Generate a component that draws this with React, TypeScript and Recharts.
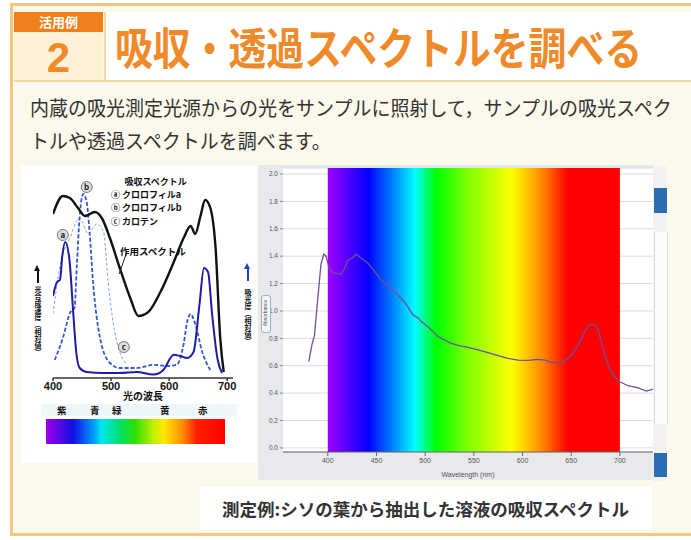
import React from 'react';
import {
  LineChart, Line, XAxis, YAxis, CartesianGrid, ReferenceArea, ReferenceDot, ReferenceLine,
} from 'recharts';

const JP = '"Noto Sans CJK JP", "Noto Sans", sans-serif';
const ORANGE = '#ef8a2a';

// left figure: action spectrum vs absorption spectra (relative, 0-100)
const actionNm = [400, 417, 429, 443, 455, 472, 484, 498, 515, 533, 547, 564, 585, 608, 625, 637, 645, 654, 662, 671, 680, 688, 694];
const actionVal = [82, 91, 90, 85, 81, 83, 80, 70, 55, 40, 31, 33, 43, 58, 70, 76, 72, 81, 89, 85, 65, 20, 3];

const chlANm = [400, 407, 412, 416, 421, 428, 435, 440, 446, 458, 487, 515, 544, 573, 590, 608, 619, 631, 642, 652, 660, 667, 674, 683, 691];
const chlAVal = [41, 48, 49, 61, 68, 60, 32, 13, 5, 3, 2.5, 2.5, 3, 1.7, 4, 11.6, 11, 10, 13, 36, 55, 53, 32, 10, 2.5];

const chlBNm = [403, 417, 430, 437, 441, 446, 452, 458, 463, 469, 481, 498, 515, 544, 573, 596, 613, 625, 631, 637, 645, 657, 671];
const chlBVal = [9, 20, 33, 35, 56, 81, 92, 88, 73, 48, 20, 7.5, 5, 5, 6.6, 6, 6.6, 17, 28, 32, 27, 13, 4];

const caroNm = [400, 412, 429, 446, 461, 475, 487, 495, 504, 515, 527];
const caroVal = [32, 56, 70, 80, 72, 77, 73, 48, 27, 13, 7];

const leftTicks = [400, 500, 600, 700];
const legendLines = ['\u3000\u2002吸収スペクトル', 'ⓐ クロロフィルa', 'ⓑ クロロフィルb', 'ⓒ カロテン'];
const colorNames = ['紫', '青', '緑', '黄', '赤'];
const colorNamePos = [62, 95, 117, 165, 203];

// right figure: measured absorbance of perilla leaf extract
const absNm = [380.5, 383.6, 386.3, 389.7, 393, 395.9, 398.3, 401.7, 406.9, 413.7, 417.1, 420.6, 425.7, 429.1, 434.3, 441.1, 448, 454.8, 461.7, 468.5, 475.4, 482.2, 487.4, 492.5, 496, 502.8, 508, 513.1, 520, 526.8, 533.7, 543.9, 554.2, 564.5, 574.8, 585, 595.3, 605.6, 615.9, 622.8, 629.6, 636.5, 643.3, 650.2, 657, 663.9, 669, 674.2, 677.6, 682.7, 687.9, 693, 699.9, 708.4, 718.7, 727.3, 734];
const absVal = [0.63, 0.75, 0.82, 1.09, 1.34, 1.415, 1.4, 1.3, 1.276, 1.27, 1.31, 1.37, 1.39, 1.415, 1.385, 1.35, 1.29, 1.227, 1.178, 1.141, 1.093, 1.032, 0.971, 0.951, 0.922, 0.885, 0.849, 0.812, 0.788, 0.763, 0.749, 0.734, 0.715, 0.695, 0.673, 0.654, 0.641, 0.639, 0.646, 0.641, 0.624, 0.622, 0.634, 0.678, 0.751, 0.849, 0.902, 0.902, 0.861, 0.727, 0.605, 0.532, 0.483, 0.454, 0.439, 0.415, 0.429];

const absTicks = [0, 0.2, 0.4, 0.6, 0.8, 1.0, 1.2, 1.4, 1.6, 1.8, 2.0];
const wlTicks = [400, 450, 500, 550, 600, 650, 700];

const spectrumStops = [
  { off: '0%', color: '#a000ff' },
  { off: '14%', color: '#0000ff' },
  { off: '30%', color: '#00ffff' },
  { off: '37%', color: '#00ff00' },
  { off: '48%', color: '#80ff00' },
  { off: '63%', color: '#ffff00' },
  { off: '74%', color: '#ff8000' },
  { off: '82%', color: '#ff0000' },
  { off: '100%', color: '#ff0000' },
];

const zip = (xs: number[], ys: number[]) => xs.map((x, i) => ({ x, y: ys[i] }));

const abs: React.CSSProperties = { position: 'absolute' };

function Arrow({ left, top, color }: { left: number; top: number; color: string }) {
  return (
    <div style={{ ...abs, left, top, width: 7, height: 18 }}>
      <div style={{ ...abs, left: 0, top: 0, width: 0, height: 0, borderLeft: '3.5px solid transparent', borderRight: '3.5px solid transparent', borderBottom: `6px solid ${color}` }} />
      <div style={{ ...abs, left: 2.5, top: 5, width: 2, height: 13, background: color }} />
    </div>
  );
}

function VerticalTitle({ text, left, top }: { text: string; left: number; top: number }) {
  return (
    <div style={{
      ...abs, left, top, width: 9, writingMode: 'vertical-rl', fontFamily: JP, fontSize: 7,
      fontWeight: 700, color: '#111', lineHeight: '9px', whiteSpace: 'nowrap',
    }}>{text}</div>
  );
}

function LeftFigure() {
  const small = { fontFamily: JP, fontSize: 9.5, fontWeight: 700, color: '#111', whiteSpace: 'nowrap' as const, lineHeight: '11px' };
  return (
    <div style={{ ...abs, left: 21, top: 166, width: 236, height: 297, background: '#fff' }}>
      <div style={{ ...abs, left: 1, top: 0 }}>
        <LineChart width={235} height={296} margin={{ top: 12, right: 24, bottom: 62, left: 31 }}>
          <XAxis type="number" dataKey="x" domain={[400, 710]} ticks={leftTicks} allowDataOverflow
            stroke="#333" strokeWidth={1.5} tickSize={3} tickMargin={1} height={22}
            tick={{ fontSize: 11, fontWeight: 700, fill: '#111', fontFamily: '"Liberation Sans", Arial' }}
            label={{ value: '光の波長', position: 'insideBottom', offset: 0, fontSize: 10, fontWeight: 700, fill: '#111', fontFamily: JP }} />
          <XAxis xAxisId="t" type="number" orientation="top" domain={[400, 710]} tick={false} tickLine={false} height={0} stroke="#333" strokeWidth={1.5} />
          <YAxis type="number" domain={[0, 100]} tick={false} tickLine={false} width={0} stroke="#333" strokeWidth={1.5} />
          <YAxis yAxisId="r" orientation="right" type="number" domain={[0, 100]} tick={false} tickLine={false} width={0} stroke="#333" strokeWidth={1.5} />
          <Line data={zip(caroNm, caroVal)} dataKey="y" type="monotone" stroke="#7fa6e6" strokeWidth={1} strokeDasharray="3 2" dot={false} isAnimationActive={false} />
          <Line data={zip(chlBNm, chlBVal)} dataKey="y" type="monotone" stroke="#3358c8" strokeWidth={1.8} strokeDasharray="4 2" dot={false} isAnimationActive={false} />
          <Line data={zip(chlANm, chlAVal)} dataKey="y" type="monotone" stroke="#1c1ca8" strokeWidth={2} dot={false} isAnimationActive={false} />
          <Line data={zip(actionNm, actionVal)} dataKey="y" type="monotone" stroke="#111" strokeWidth={2.4} dot={false} isAnimationActive={false} />
          <ReferenceLine segment={[{ x: 527, y: 63 }, { x: 514, y: 52 }]} stroke="#222" strokeWidth={1} />
          <ReferenceDot x={417} y={71.5} r={5.5} fill="#ddd" stroke="#777" label={{ value: 'a', position: 'center', fontSize: 8, fontWeight: 700, fill: '#222' }} />
          <ReferenceDot x={458} y={95.5} r={5.5} fill="#ddd" stroke="#777" label={{ value: 'b', position: 'center', fontSize: 8, fontWeight: 700, fill: '#222' }} />
          <ReferenceDot x={522} y={15.5} r={5.5} fill="#ddd" stroke="#777" label={{ value: 'c', position: 'center', fontSize: 8, fontWeight: 700, fill: '#222' }} />
        </LineChart>
      </div>
      {/* legend block */}
      <div style={{ ...abs, left: 90, top: 9, ...small, fontSize: 9, lineHeight: '13.2px' }}>
        {legendLines.map((l, i) => <React.Fragment key={i}>{i > 0 && <br />}{l}</React.Fragment>)}
      </div>
      <div style={{ ...abs, left: 99, top: 80, ...small }}>作用スペクトル</div>
      {/* vertical axis titles */}
      <Arrow left={13} top={99} color="#111" />
      <VerticalTitle text="光合成速度（相対値）" left={12} top={120} />
      <Arrow left={223} top={97} color="#2a3fc0" />
      <VerticalTitle text="吸光度（相対値）" left={222} top={123} />
      {/* colour names + colour bar */}
      <div style={{ ...abs, left: 20, top: 238, width: 196, height: 12, background: '#eef6f7' }} />
      {colorNames.map((c, i) => (
        <div key={c} style={{ ...abs, left: colorNamePos[i] - 21 - 5, top: 239, ...small, fontSize: 9.5 }}>{c}</div>
      ))}
      <div style={{
        ...abs, left: 25, top: 253, width: 179, height: 25,
        background: 'linear-gradient(to right, #a000e8 0%, #1010e0 15%, #00a0ff 27%, #00e8f0 31%, #00e060 42%, #30e000 50%, #c0f000 60%, #ffe800 66%, #ff9000 76%, #ff2000 84%, #ff0000 100%)',
      }} />
    </div>
  );
}

function RightFigure() {
  return (
    <div style={{ ...abs, left: 258, top: 165, width: 395, height: 315, background: '#e8e9ec' }}>
      <LineChart width={395} height={315} margin={{ top: 3, right: 0, bottom: 0, left: 0 }}>
        <defs>
          <linearGradient id="specGrad" x1="0" y1="0" x2="1" y2="0">
            {spectrumStops.map((s) => <stop key={s.off} offset={s.off} stopColor={s.color} />)}
          </linearGradient>
        </defs>
        <CartesianGrid vertical={false} fill="#fff" stroke="#dcdcdc" />
        <XAxis type="number" dataKey="x" domain={[354, 734]} ticks={wlTicks} allowDataOverflow height={28}
          stroke="#666" tickSize={4} tickMargin={2}
          tick={{ fontSize: 7, fill: '#555', fontFamily: '"Liberation Sans", Arial' }}
          label={{ value: 'Wavelength (nm)', position: 'insideBottom', offset: 3, fontSize: 7, fill: '#555', fontFamily: '"Liberation Sans", Arial' }} />
        <YAxis type="number" domain={[-0.03, 2.044]} ticks={absTicks} allowDataOverflow width={25}
          axisLine={false} tickSize={3} tickMargin={2} stroke="#888"
          tickFormatter={(v: number) => v.toFixed(1)}
          tick={{ fontSize: 6.5, fill: '#555', fontFamily: '"Liberation Sans", Arial' }} />
        <ReferenceArea x1={400} x2={700} fill="url(#specGrad)" fillOpacity={1} stroke="none" />
        <Line data={zip(absNm, absVal)} dataKey="y" type="linear" stroke="#6e4f9e" strokeWidth={1.3} dot={false} isAnimationActive={false} />
      </LineChart>
      <div style={{
        ...abs, left: 3, top: 130, width: 8, height: 36, border: '1px solid #9bb0c8', borderRadius: 3,
        background: '#f4f6f9',
      }} />
      <div style={{
        ...abs, left: 7, top: 148, transform: 'translate(-50%, -50%) rotate(-90deg)',
        fontSize: 5, color: '#555', fontFamily: '"Liberation Sans", Arial', whiteSpace: 'nowrap',
      }}>Absorbance</div>
    </div>
  );
}

export default function App() {
  return (
    <div style={{ position: 'absolute', left: 0, top: 0, width: 691, height: 540, background: '#fff', overflow: 'hidden', fontFamily: JP }}>
      {/* frame */}
      <div style={{ ...abs, left: 10, top: 3, width: 700, height: 533, boxSizing: 'border-box', border: '3px solid #f3c77f', background: '#fbf8ec' }} />
      {/* header */}
      <div style={{ ...abs, left: 14, top: 12, width: 89, height: 20, background: '#ef7f1a', color: '#fff', fontSize: 13, fontWeight: 700, textAlign: 'center', lineHeight: '20px' }}>活用例</div>
      <div style={{ ...abs, left: 14, top: 32, width: 89, height: 48, background: '#fdf2d8' }} />
      <div style={{ ...abs, left: 14, top: 34, width: 89, height: 47, color: ORANGE, fontSize: 42, fontWeight: 700, textAlign: 'center', lineHeight: '47px', fontFamily: '"Liberation Sans", Arial, sans-serif' }}>2</div>
      <div style={{ ...abs, left: 104, top: 12, width: 600, height: 68, background: '#fff', borderLeft: '2px solid #f3d7a0' }} />
      <div style={{ ...abs, left: 14, top: 80, width: 690, height: 2, background: '#f3d7a0' }} />
      <div style={{ ...abs, left: 115, top: 14, lineHeight: '64px', fontSize: 44, fontWeight: 700, color: ORANGE, whiteSpace: 'nowrap', transform: 'scaleX(0.86)', transformOrigin: 'left center' }}>
        吸収・透過スペクトルを調べる
      </div>
      {/* body text */}
      <div style={{ ...abs, left: 30, top: 95, fontSize: 20, color: '#333', whiteSpace: 'nowrap', transform: 'scaleX(0.95)', transformOrigin: 'left center', lineHeight: '26px' }}>
        内蔵の吸光測定光源からの光をサンプルに照射して，サンプルの吸光スペク
      </div>
      <div style={{ ...abs, left: 30, top: 128, fontSize: 20, color: '#333', whiteSpace: 'nowrap', transform: 'scaleX(0.95)', transformOrigin: 'left center', lineHeight: '26px' }}>
        トルや透過スペクトルを調べます。
      </div>
      <LeftFigure />
      <RightFigure />
      {/* side panel remnants of the software window */}
      <div style={{ ...abs, left: 653, top: 166, width: 14, height: 315, background: '#f2f2f2' }} />
      <div style={{ ...abs, left: 654, top: 188, width: 13, height: 25, background: '#2a6db0' }} />
      <div style={{ ...abs, left: 654, top: 232, width: 12, height: 192, background: '#fbfbfb', borderLeft: '1px solid #ddd', borderRight: '1px solid #ddd' }} />
      <div style={{ ...abs, left: 654, top: 453, width: 13, height: 24, background: '#2a6db0' }} />
      {/* caption */}
      <div style={{ ...abs, left: 200, top: 487, width: 452, height: 43, background: '#fff' }} />
      <div style={{ ...abs, left: 222, top: 487, height: 43, lineHeight: '43px', fontSize: 17.5, fontWeight: 700, color: '#333', whiteSpace: 'nowrap' }}>
        測定例:シソの葉から抽出した溶液の吸収スペクトル
      </div>
    </div>
  );
}
